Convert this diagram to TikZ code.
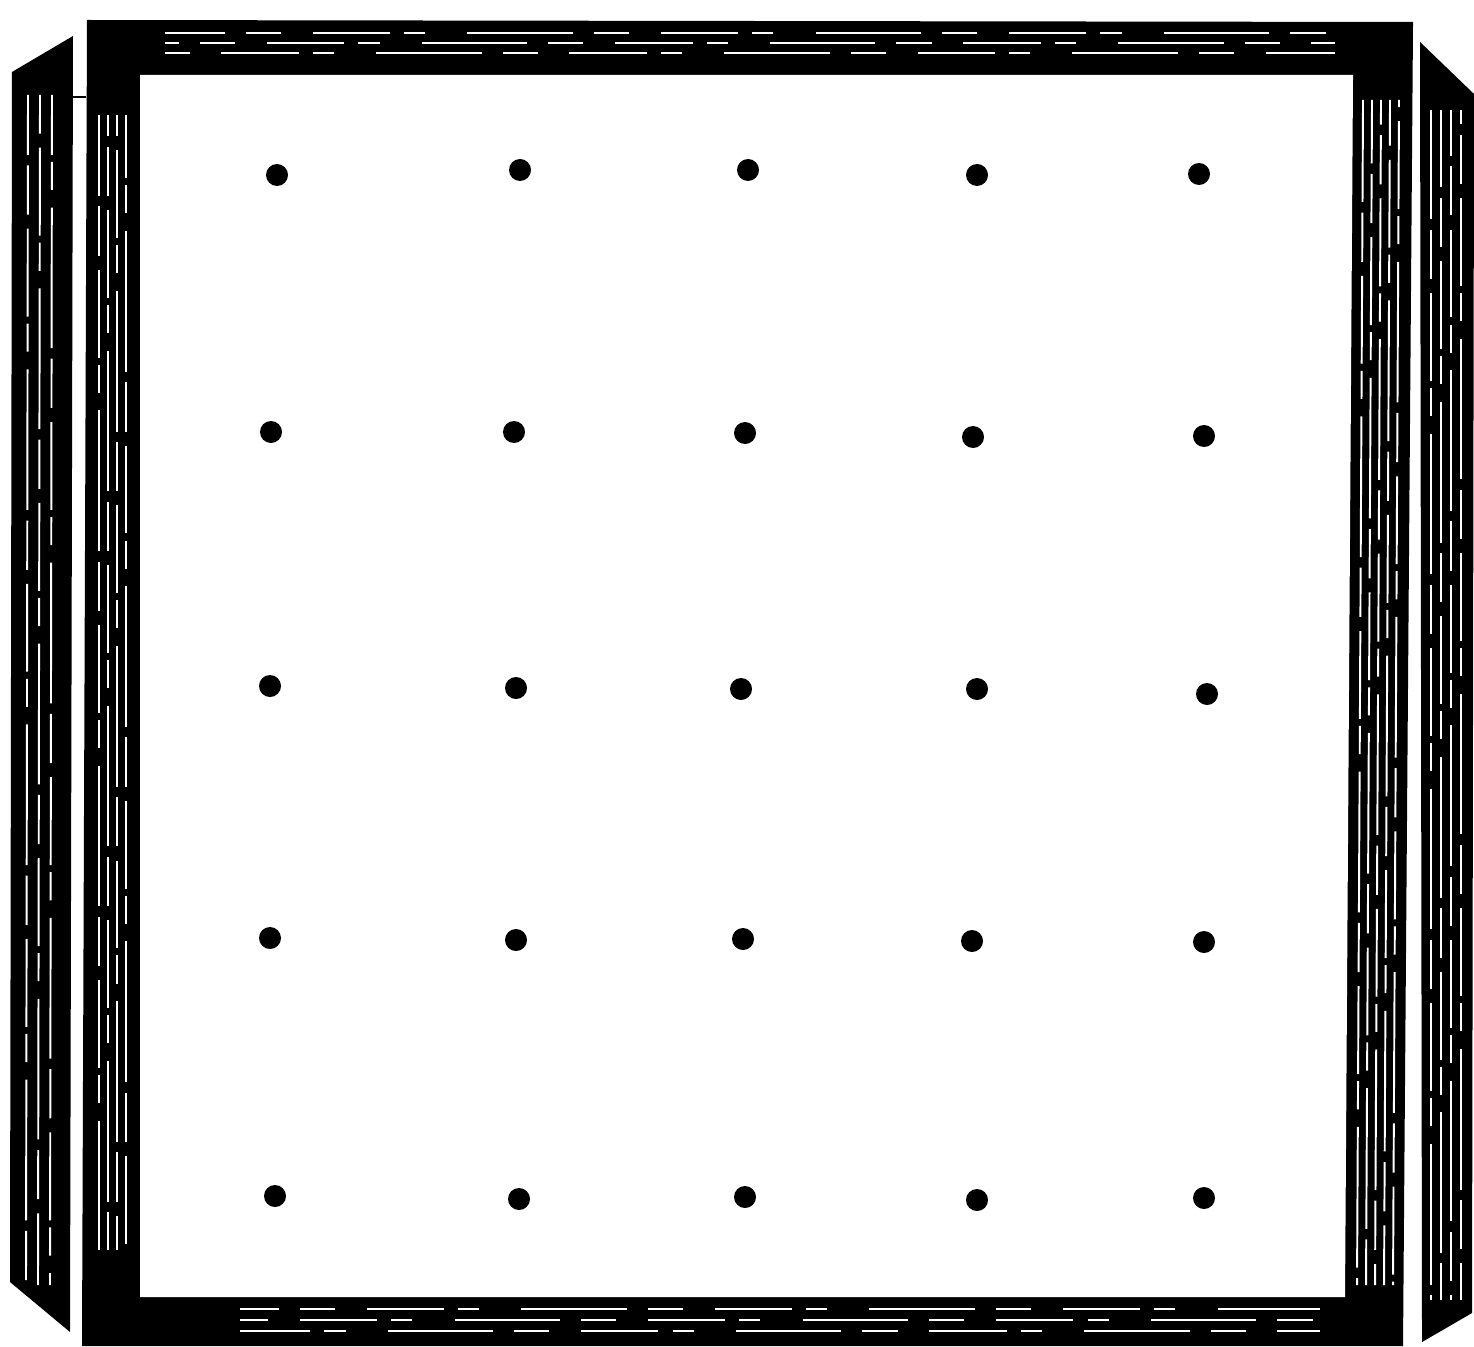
\documentclass[tikz,border=0pt]{standalone}
\begin{document}
\begin{tikzpicture}[x=0.01cm, y=-0.01cm]
    \tikzset{
        hatchv/.style={white, line width=0.55pt, dash pattern=on 40pt off 3pt on 14pt off 4pt on 25pt off 2pt on 8pt off 5pt},
        hatchh/.style={white, line width=0.5pt, dash pattern=on 30pt off 6pt on 10pt off 9pt on 22pt off 4pt on 6pt off 12pt},
        peg/.style={fill=black}
    }
    % 固定画布大小
    \useasboundingbox (0,0) rectangle (1474,1346);

    % 定义框架各角坐标
    \coordinate (TL) at (87,20);
    \coordinate (TR) at (1413,22);
    \coordinate (BL) at (82,1346);
    \coordinate (BR) at (1403,1346);

    % === 左右两侧的侧板（透视） ===
    \fill (12,72) -- (73,36) -- (70,1332) -- (10,1282) -- cycle;
    \fill (1420,42) -- (1474,94) -- (1472,1313) -- (1422,1342) -- cycle;
    \draw[line width=0.8pt] (70,97) -- (86,97);

    % === 外框：上下横条和左右立柱 ===
    \fill (TL) -- (TR) -- (BR) -- (BL) -- cycle;
    \fill[white] (140,75) -- (1353,75) -- (1345,1297) -- (140,1297) -- cycle;

    % 立柱上的竖线纹理
    \foreach \x [count=\i] in {99,108,117,126}
        \draw[hatchv, dash phase=\i*17pt] (\x,115) -- (\x,1250);
    \foreach \x [count=\i] in {1361,1370,1379,1388,1397}
        \draw[hatchv, dash phase=\i*11pt] (\x+2,100) -- (\x-4,1285);

    % 横条上的横线纹理
    \foreach \y [count=\i] in {33,43,53}
        \draw[hatchh, dash phase=\i*13pt] (165,\y) -- (1335,\y);
    \foreach \y [count=\i] in {1309,1320,1331}
        \draw[hatchh, dash phase=\i*19pt] (240,\y) -- (1320,\y);

    % 侧板纹理
    \foreach \x [count=\i] in {28,40,52}
        \draw[hatchv, dash phase=\i*23pt] (\x,95) -- (\x-2,1285);
    \foreach \x [count=\i] in {1431,1441,1451,1461}
        \draw[hatchv, dash phase=\i*9pt] (\x,110) -- (\x,1300);

    % === 钉子（5x5） ===
    \foreach \p in {(277,175),(520,170),(748,170),(977,175),(1199,174),
                    (271,432),(514,432),(745,433),(973,437),(1204,436),
                    (270,686),(516,688),(741,689),(977,689),(1207,694),
                    (270,938),(516,940),(743,939),(972,941),(1204,942),
                    (275,1196),(519,1199),(745,1197),(977,1200),(1204,1198)}
        \fill[peg] \p circle [radius=11];
\end{tikzpicture}
\end{document}
